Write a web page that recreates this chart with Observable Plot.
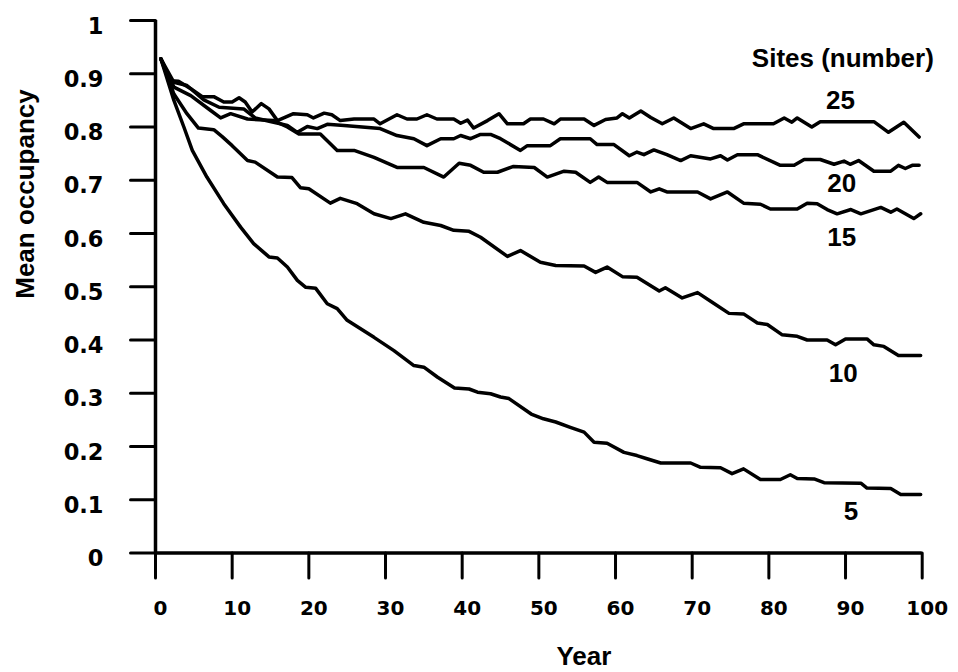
<!DOCTYPE html>
<html>
<head>
<meta charset="utf-8">
<script src="https://cdn.jsdelivr.net/npm/d3@7"></script>
<script src="https://cdn.jsdelivr.net/npm/@observablehq/plot@0.6"></script>
<style>
  html, body { margin: 0; padding: 0; background: #fff; }
  #chart svg { display: block; }
</style>
</head>
<body>
<div id="chart"></div>
<script>
// ---- Data ----
const sitesLevels = [5, 10, 15, 20, 25];

const years5 = [0.7, 2.4, 3.7, 4.8, 6.7, 8.9, 11.1, 12.8, 14.8, 15.9, 17.2, 18.5, 19.6, 20.9, 22.4, 23.7, 25.0, 28.5, 31.1, 33.7, 35.0, 36.8, 39.0, 40.9, 42.0, 43.7, 45.0, 46.1, 49.0, 50.6, 52.2, 54.1, 55.9, 57.2, 58.9, 61.1, 62.8, 64.1, 65.9, 69.8, 71.1, 73.7, 75.2, 76.7, 78.9, 81.5, 82.8, 83.7, 85.9, 87.2, 92.0, 92.8, 95.9, 97.2, 99.8];
const occ5 = [0.928, 0.850, 0.800, 0.756, 0.706, 0.656, 0.612, 0.581, 0.556, 0.554, 0.537, 0.512, 0.499, 0.497, 0.468, 0.459, 0.437, 0.405, 0.380, 0.352, 0.349, 0.330, 0.310, 0.308, 0.302, 0.299, 0.293, 0.290, 0.261, 0.252, 0.246, 0.236, 0.227, 0.208, 0.206, 0.189, 0.183, 0.177, 0.169, 0.169, 0.161, 0.160, 0.149, 0.158, 0.138, 0.138, 0.147, 0.140, 0.139, 0.132, 0.131, 0.122, 0.121, 0.110, 0.110];

const years10 = [0.7, 2.4, 4.1, 5.6, 7.6, 8.7, 10.0, 12.0, 13.0, 15.9, 17.8, 18.9, 20.0, 22.8, 24.1, 26.3, 28.5, 30.7, 32.6, 35.0, 37.2, 38.9, 40.9, 42.4, 45.9, 47.6, 50.2, 52.2, 55.9, 57.4, 58.9, 60.9, 62.8, 65.7, 66.5, 68.7, 70.7, 72.6, 74.8, 76.7, 78.5, 79.8, 81.7, 83.7, 85.0, 87.6, 88.7, 90.0, 92.8, 93.7, 95.0, 96.9, 99.8];
const occ10 = [0.928, 0.862, 0.825, 0.798, 0.795, 0.782, 0.765, 0.737, 0.734, 0.706, 0.705, 0.686, 0.684, 0.657, 0.666, 0.656, 0.637, 0.628, 0.637, 0.621, 0.615, 0.606, 0.604, 0.593, 0.557, 0.568, 0.546, 0.540, 0.539, 0.527, 0.537, 0.519, 0.518, 0.492, 0.498, 0.479, 0.489, 0.471, 0.450, 0.449, 0.432, 0.429, 0.410, 0.407, 0.400, 0.400, 0.391, 0.402, 0.402, 0.391, 0.388, 0.371, 0.371];

const years15 = [0.7, 2.4, 4.6, 7.2, 8.5, 9.8, 12.0, 15.4, 17.2, 18.7, 21.5, 23.7, 25.9, 28.5, 31.5, 35.0, 37.6, 39.6, 41.1, 42.8, 44.6, 46.7, 49.4, 51.1, 53.3, 54.8, 56.7, 57.8, 58.9, 62.8, 64.6, 65.7, 66.7, 70.7, 72.4, 74.6, 76.7, 78.9, 80.2, 83.7, 85.0, 86.3, 87.6, 88.9, 90.7, 92.0, 94.6, 95.9, 96.7, 98.9, 99.8];
const occ15 = [0.928, 0.875, 0.859, 0.831, 0.817, 0.825, 0.815, 0.812, 0.800, 0.787, 0.787, 0.756, 0.756, 0.743, 0.724, 0.724, 0.706, 0.732, 0.728, 0.715, 0.715, 0.726, 0.724, 0.706, 0.717, 0.715, 0.696, 0.706, 0.696, 0.696, 0.678, 0.684, 0.678, 0.678, 0.665, 0.678, 0.657, 0.655, 0.646, 0.646, 0.657, 0.656, 0.645, 0.637, 0.645, 0.637, 0.649, 0.640, 0.646, 0.628, 0.637];

const years20 = [0.7, 2.4, 4.1, 6.3, 8.3, 11.5, 13.0, 15.4, 17.2, 18.5, 19.8, 21.1, 22.4, 24.6, 29.3, 31.5, 33.7, 35.4, 37.2, 38.9, 39.8, 41.1, 42.4, 43.7, 45.0, 47.6, 48.5, 51.5, 52.8, 56.7, 57.6, 59.8, 61.8, 62.8, 63.7, 65.0, 66.7, 68.5, 69.8, 72.4, 73.7, 74.6, 75.9, 78.5, 81.5, 83.3, 84.6, 86.7, 88.5, 89.8, 90.6, 91.7, 93.7, 95.9, 96.9, 97.8, 98.7, 99.6];
const occ20 = [0.928, 0.884, 0.878, 0.851, 0.837, 0.834, 0.817, 0.809, 0.803, 0.790, 0.801, 0.797, 0.805, 0.803, 0.797, 0.784, 0.778, 0.765, 0.778, 0.778, 0.784, 0.778, 0.786, 0.786, 0.778, 0.756, 0.765, 0.765, 0.778, 0.778, 0.767, 0.767, 0.746, 0.753, 0.748, 0.757, 0.748, 0.737, 0.746, 0.740, 0.746, 0.738, 0.748, 0.748, 0.728, 0.728, 0.739, 0.739, 0.730, 0.736, 0.730, 0.737, 0.717, 0.717, 0.728, 0.722, 0.728, 0.728];

const years25 = [0.7, 2.0, 3.0, 4.6, 6.1, 7.6, 8.9, 10.0, 10.9, 11.7, 12.6, 13.8, 14.8, 15.9, 18.0, 19.8, 20.6, 22.0, 23.0, 24.1, 25.9, 28.5, 29.3, 31.5, 32.8, 34.1, 35.4, 36.7, 38.9, 39.8, 40.7, 41.5, 43.3, 44.8, 45.9, 48.0, 48.9, 50.6, 52.0, 52.8, 55.9, 57.2, 58.7, 60.2, 60.9, 61.8, 63.3, 64.6, 66.1, 67.6, 69.8, 71.5, 72.8, 75.4, 76.7, 80.6, 82.0, 83.0, 83.7, 85.6, 86.7, 93.7, 95.6, 97.6, 99.6];
const occ25 = [0.928, 0.887, 0.886, 0.872, 0.857, 0.857, 0.847, 0.847, 0.855, 0.847, 0.828, 0.844, 0.834, 0.812, 0.825, 0.823, 0.817, 0.826, 0.823, 0.812, 0.815, 0.815, 0.806, 0.823, 0.815, 0.815, 0.823, 0.815, 0.815, 0.807, 0.813, 0.798, 0.812, 0.825, 0.806, 0.806, 0.815, 0.815, 0.806, 0.815, 0.815, 0.803, 0.814, 0.817, 0.825, 0.817, 0.830, 0.818, 0.806, 0.817, 0.797, 0.806, 0.797, 0.797, 0.806, 0.806, 0.817, 0.809, 0.817, 0.800, 0.810, 0.810, 0.790, 0.809, 0.781];

const xTicks = [0, 10, 20, 30, 40, 50, 60, 70, 80, 90, 100];
const xTickLabels = ["0", "10", "20", "30", "40", "50", "60", "70", "80", "90", "100"];
const yTicks = [0, 0.1, 0.2, 0.3, 0.4, 0.5, 0.6, 0.7, 0.8, 0.9, 1];
const yTickLabels = ["0", "0.1", "0.2", "0.3", "0.4", "0.5", "0.6", "0.7", "0.8", "0.9", "1"];

const labelTexts = ["Sites (number)", "25", "20", "15", "10", "5"];
const labelYears = [89.65, 89.35, 89.5, 89.5, 89.7, 90.7];
const labelValues = [0.928, 0.850, 0.693, 0.593, 0.336, 0.077];

const xTitle = "Year";
const yTitle = "Mean occupancy";

// ---- Build tables ----
const seriesYears = {5: years5, 10: years10, 15: years15, 20: years20, 25: years25};
const seriesOcc = {5: occ5, 10: occ10, 15: occ15, 20: occ20, 25: occ25};
const rows = sitesLevels.flatMap(s => seriesYears[s].map((yr, i) => ({sites: s, year: yr, occ: seriesOcc[s][i]})));
const labels = labelTexts.map((t, i) => ({text: t, year: labelYears[i], occ: labelValues[i]}));

const tickFont = "DejaVu Sans";
const textFont = "Liberation Sans";
const tickShape = {draw(context, l) { context.moveTo(0, 0); context.lineTo(0, -l); }};

const chart = Plot.plot({
  width: 958,
  height: 672,
  marginLeft: 155,
  marginRight: 36.3,
  marginTop: 20,
  marginBottom: 119.5,
  style: {fontFamily: textFont, background: "#fff", color: "#000"},
  x: {domain: [0, 100]},
  y: {domain: [0, 1]},
  marks: [
    // y tick marks (pointing left)
    Plot.vector(yTicks, {x: 0, y: d => d, length: 25, rotate: -90, anchor: "start", shape: tickShape, stroke: "#000", strokeWidth: 3}),
    // x tick marks (pointing down)
    Plot.vector(xTicks, {x: d => d, y: 0, length: 25, rotate: 180, anchor: "start", shape: tickShape, stroke: "#000", strokeWidth: 3}),
    // y tick labels
    Plot.axisY({ticks: yTicks, tickSize: 0, tickPadding: 52, dy: 6, label: null,
      tickFormat: (d, i) => yTickLabels[i], fontFamily: tickFont, fontWeight: "bold", fontSize: 22.5, fill: "#000"}),
    // x tick labels
    Plot.axisX({ticks: xTicks, tickSize: 0, tickPadding: 48, dx: 5, label: null,
      tickFormat: (d, i) => xTickLabels[i], fontFamily: tickFont, fontWeight: "bold", fontSize: 20, fill: "#000"}),
    // axis lines
    Plot.ruleX([0], {stroke: "#000", strokeWidth: 3.5}),
    Plot.ruleY([0], {stroke: "#000", strokeWidth: 3.5}),
    // data lines
    Plot.line(rows, {x: "year", y: "occ", z: "sites", stroke: "#000", strokeWidth: 3.5, strokeLinejoin: "round", strokeLinecap: "round"}),
    // in-chart labels
    Plot.text(labels, {x: "year", y: "occ", text: "text", fontFamily: textFont, fontWeight: "bold", fontSize: 26, fill: "#000"}),
    // axis titles
    Plot.text([xTitle], {frameAnchor: "bottom", dx: 45, dy: 111.5, lineAnchor: "bottom", fontFamily: textFont, fontWeight: "bold", fontSize: 26, fill: "#000"}),
    Plot.text([yTitle], {frameAnchor: "left", rotate: -90, dx: -122, dy: 12, lineAnchor: "bottom", fontFamily: textFont, fontWeight: "bold", fontSize: 26, fill: "#000"})
  ]
});
document.getElementById("chart").appendChild(chart);
</script>
</body>
</html>
